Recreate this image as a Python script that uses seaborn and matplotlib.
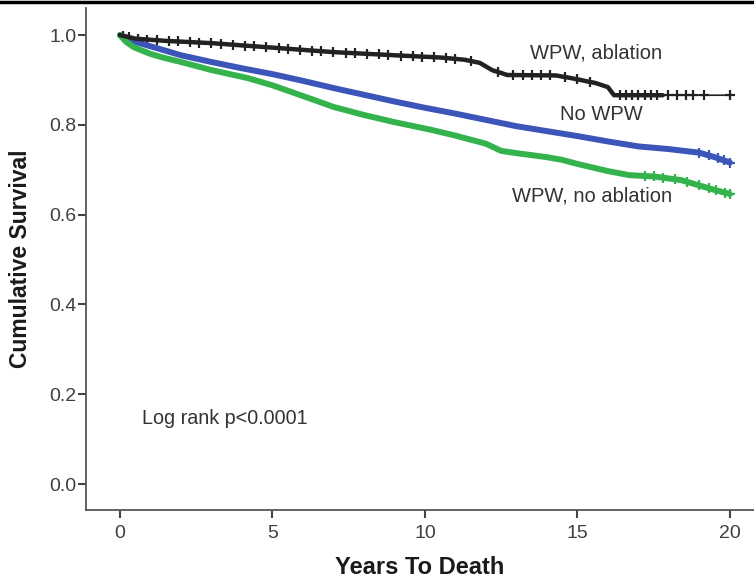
import numpy as np
import pandas as pd
import matplotlib.pyplot as plt
import seaborn as sns
from matplotlib.lines import Line2D

# survival curves
abl_t = [0, 0.5, 1.5, 3, 5, 7, 9, 10.5, 11.3, 11.8, 12.2, 12.7, 14.3, 14.8, 15.6, 16.0, 16.2, 20]
abl_s = [1.0, 0.992, 0.987, 0.982, 0.972, 0.962, 0.955, 0.950, 0.945, 0.938, 0.922, 0.911, 0.910, 0.904, 0.893, 0.884, 0.866, 0.866]

nowpw_t = [0, 0.5, 1, 2, 3, 4, 5, 6, 7, 8, 9, 10, 11, 12, 13, 14, 15, 16, 17, 18, 19, 19.5, 20]
nowpw_s = [1.0, 0.985, 0.975, 0.955, 0.940, 0.926, 0.913, 0.898, 0.882, 0.867, 0.852, 0.838, 0.825, 0.811,
           0.797, 0.786, 0.775, 0.763, 0.752, 0.746, 0.738, 0.728, 0.716]

noabl_t = [0, 0.2, 0.45, 1, 1.4, 2, 3, 4.2, 5, 6.3, 7, 8, 9, 10.2, 11, 12, 12.5, 13, 14, 14.5, 15, 16,
           16.7, 17.5, 18.4, 19, 19.5, 20]
noabl_s = [1.0, 0.985, 0.973, 0.958, 0.950, 0.940, 0.922, 0.904, 0.888, 0.857, 0.840, 0.822, 0.806, 0.789,
           0.776, 0.758, 0.742, 0.737, 0.728, 0.722, 0.713, 0.697, 0.688, 0.685, 0.677, 0.665, 0.655, 0.646]

# censor marks (years)
abl_cens = [0.1, 0.3, 0.6, 0.9, 1.2, 1.6, 1.9, 2.3, 2.6, 3.0, 3.3, 3.7, 4.1, 4.4, 4.8, 5.2, 5.5, 5.9, 6.3,
            6.6, 7.0, 7.4, 7.7, 8.1, 8.5, 8.8, 9.2, 9.6, 9.9, 10.3, 10.7, 11.0, 11.5, 12.4, 12.9, 13.2,
            13.5, 13.8, 14.1, 14.6, 15.0, 15.4, 16.4, 16.6, 16.8, 17.0, 17.2, 17.4, 17.6, 17.97, 18.26,
            18.56, 18.79, 19.15, 20.0]
abl_dense_end = 17.8  # censor marks crowd the curve up to here
nowpw_cens = [19.0, 19.3, 19.6, 19.8, 20.0]
noabl_cens = [17.2, 17.5, 17.8, 18.2, 18.6, 19.0, 19.3, 19.55, 19.85, 20.0]

groups = ['WPW, ablation', 'No WPW', 'WPW, no ablation']
colors = ['#222222', '#3b55b8', '#34b24c']

curves = pd.concat([
    pd.DataFrame({'years': abl_t, 'survival': abl_s, 'group': groups[0]}),
    pd.DataFrame({'years': nowpw_t, 'survival': nowpw_s, 'group': groups[1]}),
    pd.DataFrame({'years': noabl_t, 'survival': noabl_s, 'group': groups[2]}),
])

sns.set_style('white')
plt.rcParams['font.family'] = ['Liberation Sans', 'DejaVu Sans']

fig = plt.figure(figsize=(7.54, 5.79), dpi=100)
ax = fig.add_axes([0.114, 0.119, 0.886, 0.867])

widths = [1.2, 4.3, 4.3]
cens = [abl_cens, nowpw_cens, noabl_cens]
for g, c, w, ct in zip(groups, colors, widths, cens):
    d = curves[curves['group'] == g]
    sns.lineplot(data=d, x='years', y='survival', color=c, linewidth=w,
                 estimator=None, sort=False, ax=ax, legend=False)
    cy = np.interp(ct, d['years'], d['survival'])
    sns.scatterplot(x=ct, y=cy, marker='+', s=50, linewidth=1.6, color=c, ax=ax, legend=False)

# the crowded part of the ablation curve looks like a thick band
d = curves[curves['group'] == groups[0]]
dense = d[d['years'] < abl_dense_end]
dense_x = list(dense['years']) + [abl_dense_end]
dense_y = list(dense['survival']) + [float(np.interp(abl_dense_end, d['years'], d['survival']))]
sns.lineplot(x=dense_x, y=dense_y, color=colors[0], linewidth=3.2, estimator=None, sort=False,
             ax=ax, legend=False)

ax.set_xlim(-1.115, 20.79)
ax.set_ylim(-0.058, 1.06)
ax.set_xticks([0, 5, 10, 15, 20])
ax.set_yticks([0.0, 0.2, 0.4, 0.6, 0.8, 1.0])
ax.set_yticklabels(['0.0', '0.2', '0.4', '0.6', '0.8', '1.0'])
ax.tick_params(axis='both', which='major', direction='out', length=6, width=1.5,
               color='#444444', labelcolor='#404040', labelsize=14, left=True, bottom=True)
ax.tick_params(axis='y', pad=1)
ax.tick_params(axis='x', pad=5)
for side in ['top', 'right']:
    ax.spines[side].set_visible(False)
for side in ['left', 'bottom']:
    ax.spines[side].set_color('#555555')
    ax.spines[side].set_linewidth(1.3)

ax.set_xlabel('Years To Death', fontsize=17, fontweight='bold', color='#1a1a1a', labelpad=10)
ax.set_ylabel('Cumulative Survival', fontsize=16.5, fontweight='bold', color='#1a1a1a', labelpad=12)

ax.text(13.44, 0.96, 'WPW, ablation', fontsize=14.5, color='#333333', va='center')
ax.text(14.43, 0.822, 'No WPW', fontsize=14.5, color='#333333', va='center')
ax.text(12.85, 0.641, 'WPW, no ablation', fontsize=14.5, color='#333333', va='center')
ax.text(0.72, 0.147, 'Log rank p<0.0001', fontsize=14.2, color='#333333', va='center')

fig.add_artist(Line2D([0, 1], [1 - 2 / 579, 1 - 2 / 579], color='black', linewidth=2.5,
                      transform=fig.transFigure))

fig.savefig('out.png', dpi=100)
